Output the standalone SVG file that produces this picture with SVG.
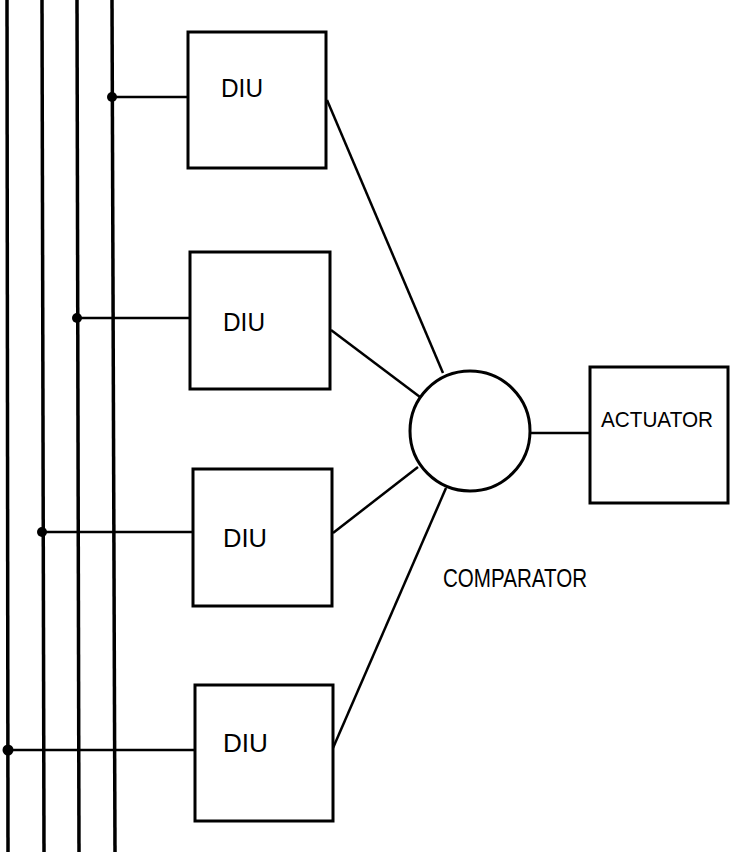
<svg xmlns="http://www.w3.org/2000/svg" width="731" height="852" viewBox="0 0 731 852">
<style>
.bus{stroke:#000;stroke-width:3.5;fill:none}
.box{stroke:#000;stroke-width:3;fill:#fff}
.wire{stroke:#000;stroke-width:2.5;fill:none}
.dot{fill:#000}
.lbl{font-family:"Liberation Sans",Arial,sans-serif;font-size:25px;fill:#000}
.lbl.sm{font-size:22px}
</style>
<rect width="731" height="852" fill="#fff"/>
<g id="connectors">
<line class="bus" x1="7" y1="0" x2="8" y2="852"/>
<line class="bus" x1="42" y1="0" x2="44" y2="852"/>
<line class="bus" x1="77" y1="0" x2="79" y2="852"/>
<line class="bus" x1="112" y1="0" x2="115" y2="852"/>
<line class="wire" x1="112" y1="97" x2="188" y2="97"/>
<line class="wire" x1="77" y1="318" x2="190" y2="318"/>
<line class="wire" x1="42" y1="532" x2="193" y2="532"/>
<line class="wire" x1="7" y1="750" x2="195" y2="750"/>
<circle class="dot" cx="112" cy="97" r="5"/>
<circle class="dot" cx="77" cy="318" r="5"/>
<circle class="dot" cx="42" cy="532" r="5"/>
<circle class="dot" cx="8" cy="750" r="5.5"/>
<line class="wire" x1="327" y1="100" x2="443" y2="373"/>
<line class="wire" x1="331" y1="330" x2="420" y2="397"/>
<line class="wire" x1="333" y1="533" x2="418" y2="467"/>
<line class="wire" x1="333" y1="748" x2="446" y2="488"/>
<line class="wire" x1="530" y1="433" x2="590" y2="433"/>
</g>
<g id="diu1">
<rect class="box" x="188" y="32" width="138" height="136"/>
<text class="lbl" x="221" y="97" textLength="42" lengthAdjust="spacingAndGlyphs">DIU</text>
</g>
<g id="diu2">
<rect class="box" x="190" y="252" width="140" height="137"/>
<text class="lbl" x="223" y="331" textLength="42" lengthAdjust="spacingAndGlyphs">DIU</text>
</g>
<g id="diu3">
<rect class="box" x="193" y="469" width="139" height="137"/>
<text class="lbl" x="223" y="547" textLength="44" lengthAdjust="spacingAndGlyphs">DIU</text>
</g>
<g id="diu4">
<rect class="box" x="195" y="685" width="138" height="136"/>
<text class="lbl" x="223" y="752" textLength="45" lengthAdjust="spacingAndGlyphs">DIU</text>
</g>
<g id="comparator">
<circle class="box" cx="470" cy="431" r="60"/>
<text class="lbl" x="443" y="587" textLength="144" lengthAdjust="spacingAndGlyphs">COMPARATOR</text>
</g>
<g id="actuator">
<rect class="box" x="590" y="367" width="138" height="136"/>
<text class="lbl sm" x="601" y="427" textLength="112" lengthAdjust="spacingAndGlyphs">ACTUATOR</text>
</g>
</svg>
